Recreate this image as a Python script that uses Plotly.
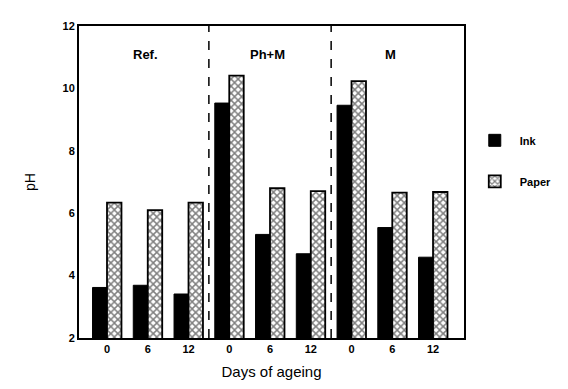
import plotly.graph_objects as go

days = ["0", "6", "12", "0", "6", "12", "0", "6", "12"]
groups = ["Ref.", "Ph+M", "M"]
ink = [3.62, 3.69, 3.41, 9.53, 5.32, 4.70, 9.46, 5.54, 4.59]
paper = [6.34, 6.10, 6.34, 10.41, 6.80, 6.71, 10.23, 6.66, 6.68]
y_ticks = [2, 4, 6, 8, 10, 12]

x = list(range(len(days)))
FONT = "Liberation Sans, Arial, sans-serif"

fig = go.Figure()
fig.add_trace(go.Bar(
    x=x, y=ink, name="Ink", legendgroup="ink",
    marker=dict(color="black", line=dict(color="black", width=1)),
))
fig.add_trace(go.Bar(
    x=x, y=paper, name="Paper", legendgroup="paper",
    marker=dict(color="white", line=dict(color="black", width=1.8),
                pattern=dict(shape="x", fgcolor="black", bgcolor="white",
                             size=5, solidity=0.5, fillmode="overlay")),
))

for xv in [2.5, 5.5]:
    fig.add_shape(type="line", x0=xv, x1=xv, y0=2, y1=12, xref="x", yref="y",
                  line=dict(color="black", width=1.5, dash="dash"))

for i, g in enumerate(groups):
    fig.add_annotation(x=3 * i + 0.95, y=11.1, text=g, showarrow=False,
                       font=dict(family=FONT, size=13, color="black", weight="bold"))

fig.update_layout(
    width=568, height=389,
    margin=dict(l=71, r=112, t=15, b=59),
    paper_bgcolor="white", plot_bgcolor="white",
    barmode="group", bargap=0.29, bargroupgap=0,
    font=dict(family=FONT, size=11, color="black"),
    showlegend=True,
    legend=dict(x=1.015, y=0.68, xanchor="left", yanchor="top",
                font=dict(family=FONT, size=11, color="black", weight="bold"),
                traceorder="grouped", tracegroupgap=22, itemwidth=40,
                bgcolor="rgba(0,0,0,0)"),
)
fig.update_xaxes(
    range=[-0.687, 8.76], tickvals=x, ticktext=days,
    showline=True, linecolor="black", linewidth=2, mirror=True,
    showgrid=False, zeroline=False, ticks="",
    tickfont=dict(family=FONT, size=11, color="black", weight="bold"),
    title=dict(text="Days of ageing", font=dict(family=FONT, size=15, color="black"),
               standoff=12),
)
fig.update_yaxes(
    range=[2, 12], tickvals=y_ticks,
    showline=True, linecolor="black", linewidth=2, mirror=True,
    showgrid=False, zeroline=False, ticks="",
    tickfont=dict(family=FONT, size=11, color="black", weight="bold"),
    title=dict(text="pH", font=dict(family=FONT, size=14, color="black"),
               standoff=24),
)

fig.write_html("out.html")
